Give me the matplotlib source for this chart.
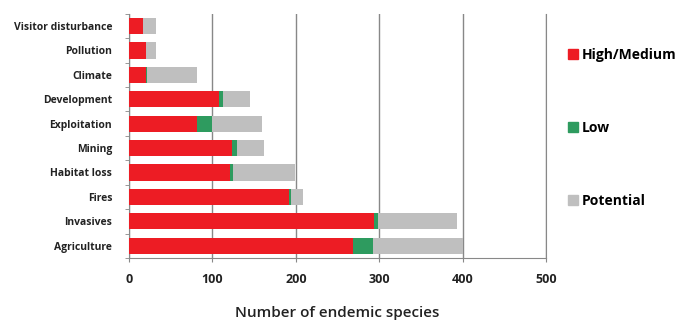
import matplotlib.pyplot as plt
from matplotlib.patches import Patch

categories = ["Agriculture", "Invasives", "Fires", "Habitat loss", "Mining",
              "Exploitation", "Development", "Climate", "Pollution", "Visitor disturbance"]
high_medium = [268, 294, 192, 121, 124, 82, 108, 20, 21, 17]
low = [24, 5, 2, 4, 5, 18, 5, 2, 0, 0]
potential = [108, 94, 14, 74, 33, 59, 32, 59, 12, 16]

red = "#ED1C24"
green = "#2E9B5F"
grey = "#BFBFBF"

plt.rcParams['font.family'] = ['Open Sans', 'DejaVu Sans']

fig = plt.figure(figsize=(6.82, 3.22), dpi=100)
ax = fig.add_axes([0.189, 0.199, 0.612, 0.758])

y = list(range(len(categories)))
left_low = [h for h in high_medium]
left_pot = [h + l for h, l in zip(high_medium, low)]
h = 0.66
ax.barh(y, high_medium, height=h, color=red, zorder=3)
ax.barh(y, low, left=left_low, height=h, color=green, zorder=3)
ax.barh(y, potential, left=left_pot, height=h, color=grey, zorder=3)

ax.set_xlim(0, 500)
ax.set_ylim(-0.5, len(categories) - 0.5)
ax.set_xticks([0, 100, 200, 300, 400, 500])
ax.set_xticklabels(["0", "100", "200", "300", "400", "500"], fontsize=9, fontweight="bold", color="#222222")
ax.set_yticks(y)
ax.set_yticklabels(categories, fontsize=7.5, fontweight="bold", color="#222222")
ax.set_yticks([i - 0.5 for i in range(len(categories) + 1)], minor=True)
ax.tick_params(axis="y", which="major", length=0, pad=12)
ax.tick_params(axis="y", which="minor", length=3, color="#888888")
ax.tick_params(axis="x", length=3, color="#888888", pad=8)

ax.grid(axis="x", color="#888888", linewidth=1, zorder=0)
ax.spines["top"].set_visible(False)
for s in ["left", "bottom", "right"]:
    ax.spines[s].set_color("#888888")

ax.set_xlabel("Number of endemic species", fontsize=11, fontweight="semibold", color="#222222", labelpad=14)

handles = [Patch(color=red, label="High/Medium"),
           Patch(color=green, label="Low"),
           Patch(color=grey, label="Potential")]
fig.legend(handles=handles, loc="upper left", bbox_to_anchor=(0.815, 0.89),
           frameon=False, handlelength=0.7, handleheight=0.7, handletextpad=0.3,
           labelspacing=4.25, prop={"size": 10, "weight": "bold"})

fig.savefig("out.png", dpi=100)
